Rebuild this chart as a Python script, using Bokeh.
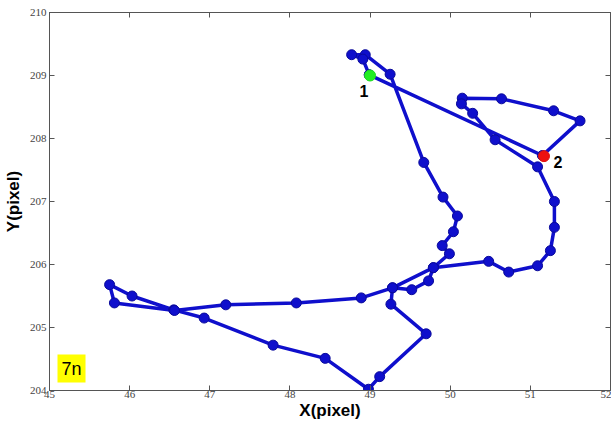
from bokeh.plotting import figure
from bokeh.models import Range1d, LinearAxis, Label, FixedTicker, ColumnDataSource
from bokeh.embed import file_html
from bokeh.resources import INLINE

# Trajectory points (in drawing order)
track_x = [48.99, 51.15, 51.62, 51.29, 50.64, 50.15, 50.14, 50.28, 50.56, 51.09,
           51.30, 51.30, 51.25, 51.09, 50.73, 50.48, 49.79, 49.28, 49.26, 49.70,
           49.12, 48.98, 48.44, 47.79, 46.93, 46.55, 46.03, 45.75, 45.81, 46.56,
           47.20, 48.08, 48.89, 49.28, 49.52, 49.73, 49.79, 49.99, 49.90, 50.04,
           50.09, 49.91, 49.67, 49.25, 48.94, 48.77, 48.91, 48.99]
track_y = [209.01, 207.73, 208.28, 208.44, 208.63, 208.64, 208.55, 208.40, 207.98, 207.55,
           207.00, 206.59, 206.22, 205.98, 205.88, 206.05, 205.95, 205.63, 205.37, 204.90,
           204.22, 204.02, 204.51, 204.72, 205.15, 205.28, 205.50, 205.68, 205.39, 205.27,
           205.36, 205.39, 205.47, 205.63, 205.60, 205.74, 205.95, 206.17, 206.30, 206.52,
           206.77, 207.07, 207.62, 209.02, 209.33, 209.33, 209.26, 209.01]

start_x, start_y = [49.0], [209.0]
end_x, end_y = [51.17], [207.72]
start_label, end_label = "1", "2"
corner_tag = "7n"

x_ticks = [45, 46, 47, 48, 49, 50, 51, 52]
y_ticks = [204, 205, 206, 207, 208, 209, 210]

p = figure(width=611, height=422, output_backend="svg", toolbar_location=None,
           x_range=Range1d(45, 52), y_range=Range1d(204, 210),
           min_border_left=48, min_border_right=1, min_border_top=12, min_border_bottom=32)
p.background_fill_color = "white"
p.border_fill_color = "white"
p.outline_line_color = "#555555"
p.outline_line_width = 1
p.xgrid.visible = False
p.ygrid.visible = False

blue = "#0f0fcc"
src = ColumnDataSource(dict(x=track_x, y=track_y))
p.line("x", "y", source=src, line_color=blue, line_width=3.5)
p.scatter("x", "y", source=src, size=10, fill_color=blue, line_color="#0a0a9a", line_width=1)
p.scatter(start_x, start_y, size=11, fill_color="#22ee22", line_color="#22dd22")
p.scatter(end_x, end_y, size=11, fill_color="#ee1111", line_color="#dd1111")

p.add_layout(Label(x=start_x[0], y=start_y[0], text=start_label, x_offset=-6, y_offset=-15,
                   text_align="center", text_baseline="middle",
                   text_font="Liberation Sans", text_font_size="16px", text_font_style="bold",
                   text_color="black"))
p.add_layout(Label(x=end_x[0], y=end_y[0], text=end_label, x_offset=14, y_offset=-6,
                   text_align="center", text_baseline="middle",
                   text_font="Liberation Sans", text_font_size="16px", text_font_style="bold",
                   text_color="black"))
p.add_layout(Label(x=8, y=8, x_units="screen", y_units="screen", text=corner_tag,
                   text_font="Liberation Sans", text_font_size="18px", text_color="black",
                   background_fill_color="#ffff00", padding=4))

tick_font = "Liberation Sans Narrow"
for ax in (p.xaxis[0], p.yaxis[0]):
    ax.axis_line_color = "#555555"
    ax.major_tick_line_color = "#555555"
    ax.major_tick_in = 5
    ax.major_tick_out = 0
    ax.minor_tick_line_color = None
    ax.major_label_text_font = tick_font
    ax.major_label_text_font_size = "11px"
    ax.major_label_text_color = "#444444"
    ax.axis_label_text_font = "Liberation Sans"
    ax.axis_label_text_font_size = "17px"
    ax.axis_label_text_font_style = "bold"
    ax.axis_label_text_color = "black"
p.xaxis[0].ticker = FixedTicker(ticks=x_ticks)
p.yaxis[0].ticker = FixedTicker(ticks=y_ticks)
p.xaxis[0].axis_label = "X(pixel)"
p.yaxis[0].axis_label = "Y(pixel)"
p.xaxis[0].major_label_standoff = 0
p.xaxis[0].axis_label_standoff = 0
p.yaxis[0].major_label_standoff = 3
p.yaxis[0].axis_label_standoff = 4

# mirrored inward ticks on top and right
for ticks, side in ((x_ticks, "above"), (y_ticks, "right")):
    ax = LinearAxis(ticker=FixedTicker(ticks=ticks))
    ax.major_label_overrides = {t: "" for t in ticks}
    ax.major_label_text_font_size = "0px"
    ax.major_label_standoff = 0
    ax.major_tick_in = 5
    ax.major_tick_out = 0
    ax.minor_tick_line_color = None
    ax.axis_line_color = "#555555"
    ax.major_tick_line_color = "#555555"
    p.add_layout(ax, side)

open("out.html", "w").write(file_html(p, INLINE))
